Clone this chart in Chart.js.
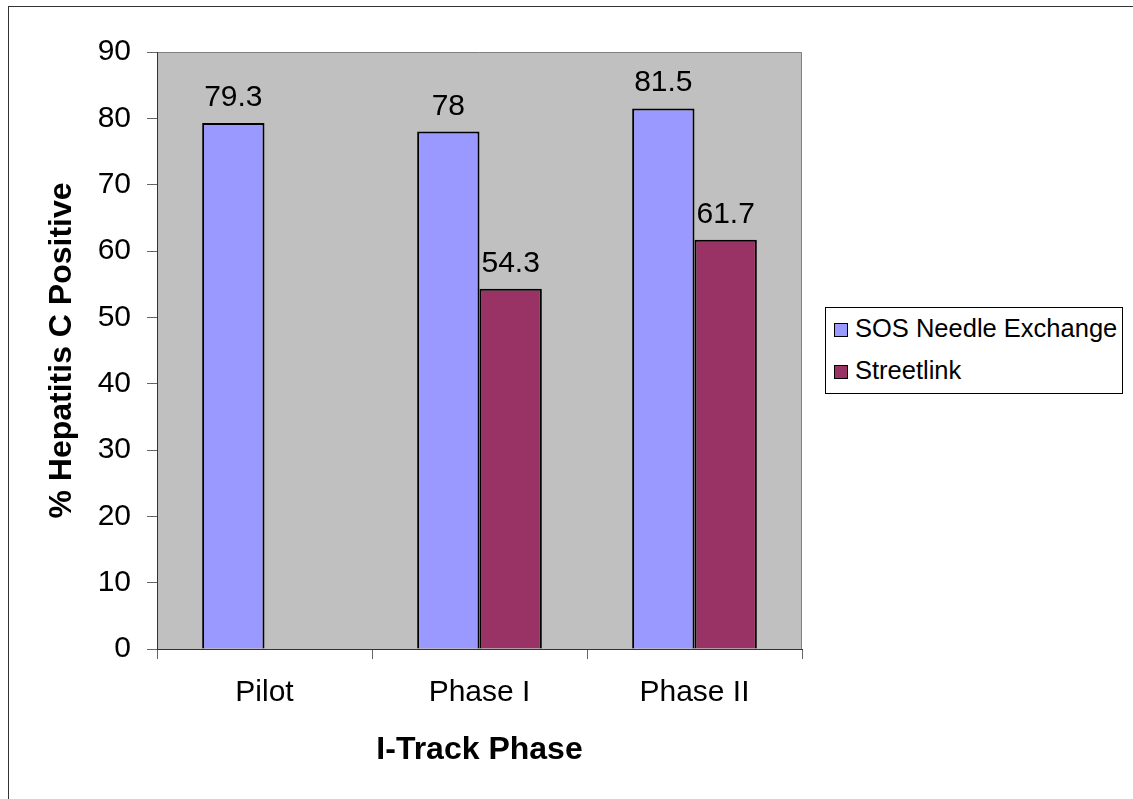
<!DOCTYPE html>
<html>
<head>
<meta charset="utf-8">
<script src="https://cdn.jsdelivr.net/npm/chart.js@4/dist/chart.umd.min.js"></script>
<style>
  html, body { margin: 0; padding: 0; background: #fff; overflow: hidden; }
  #wrap { position: relative; width: 1133px; height: 799px; }
  #frame { position: absolute; left: 8px; top: 6px; width: 2000px; height: 2000px;
    border-left: 1px solid #333; border-top: 1px solid #333; box-sizing: border-box; }
  #legend { position: absolute; left: 825px; top: 307px; width: 298px; height: 87px;
    border: 1px solid #000; box-sizing: border-box; background: #fff;
    font-family: "Liberation Sans", Arial, sans-serif; font-size: 25.5px; color: #000; }
  #legend .item { position: absolute; left: 8px; white-space: nowrap; }
  #legend .sw { display: inline-block; width: 14px; height: 14px; border: 1px solid #000;
    box-sizing: border-box; margin-right: 7px; vertical-align: 0px; }
  canvas { position: absolute; left: 0; top: 0; }
</style>
</head>
<body>
<div id="wrap">
  <div id="frame"></div>
  <canvas id="chart" width="1133" height="799"></canvas>
  <div id="legend"></div>
</div>
<script>
const categories = ['Pilot', 'Phase I', 'Phase II'];
const sosValues = [79.3, 78, 81.5];
const streetlinkValues = [null, 54.3, 61.7];
const seriesNames = ['SOS Needle Exchange', 'Streetlink'];
const seriesColors = ['#9999FF', '#993366'];

const FONT = '"Liberation Sans", Arial, sans-serif';

// grey plot area with a thin border on top and right
const plotBackground = {
  id: 'plotBackground',
  beforeDraw(chart) {
    const { ctx, chartArea: a } = chart;
    ctx.save();
    ctx.fillStyle = '#C0C0C0';
    ctx.fillRect(a.left, a.top, a.right - a.left, a.bottom - a.top);
    ctx.strokeStyle = '#808080';
    ctx.lineWidth = 1;
    ctx.beginPath();
    ctx.moveTo(a.left, a.top + 0.5);
    ctx.lineTo(a.right - 0.5, a.top + 0.5);
    ctx.lineTo(a.right - 0.5, a.bottom);
    ctx.stroke();
    ctx.restore();
  }
};

// value labels above the bars
const barLabels = {
  id: 'barLabels',
  afterDatasetsDraw(chart) {
    const { ctx } = chart;
    ctx.save();
    ctx.font = '30px ' + FONT;
    ctx.fillStyle = '#000';
    ctx.textAlign = 'center';
    ctx.textBaseline = 'alphabetic';
    chart.data.datasets.forEach((ds, i) => {
      chart.getDatasetMeta(i).data.forEach((bar, j) => {
        const v = ds.data[j];
        if (v === null || v === undefined) return;
        ctx.fillText(String(v), bar.x, bar.y - 17);
      });
    });
    ctx.restore();
  }
};

const ctx = document.getElementById('chart').getContext('2d');
const chart = new Chart(ctx, {
  type: 'bar',
  data: {
    labels: categories,
    datasets: [
      {
        label: seriesNames[0],
        data: sosValues,
        backgroundColor: seriesColors[0],
        borderColor: '#000',
        borderWidth: 2
      },
      {
        label: seriesNames[1],
        data: streetlinkValues,
        backgroundColor: seriesColors[1],
        borderColor: '#000',
        borderWidth: 2
      }
    ]
  },
  options: {
    responsive: false,
    animation: false,
    categoryPercentage: 0.58,
    barPercentage: 1,
    layout: { padding: { left: 43, top: 52, right: 331, bottom: 30 } },
    plugins: {
      legend: { display: false },
      tooltip: { enabled: false }
    },
    scales: {
      x: {
        afterFit(scale) { scale.height = 120; },
        border: { display: true, color: '#333', width: 1 },
        grid: { display: true, drawOnChartArea: false, drawTicks: true, tickLength: 10, color: '#666', offset: true },
        ticks: { color: '#000', font: { family: FONT, size: 30 }, padding: 16 },
        title: {
          display: true,
          text: 'I-Track Phase',
          color: '#000',
          font: { family: FONT, size: 32, weight: 'bold' },
          padding: 0
        }
      },
      y: {
        min: 0,
        max: 90,
        afterFit(scale) { scale.width = 157 - 43; },
        border: { display: true, color: '#333', width: 1 },
        grid: { display: true, drawOnChartArea: false, drawTicks: true, tickLength: 10, color: '#666' },
        ticks: { stepSize: 10, color: '#000', font: { family: FONT, size: 30 }, padding: 16 },
        title: {
          display: true,
          text: '% Hepatitis C Positive',
          color: '#000',
          font: { family: FONT, size: 32, weight: 'bold' },
          padding: 0
        }
      }
    }
  },
  plugins: [plotBackground, barLabels]
});

// legend box built from the datasets
const legend = document.getElementById('legend');
const rowTops = [6, 48];
chart.data.datasets.forEach((ds, i) => {
  const item = document.createElement('div');
  item.className = 'item';
  item.style.top = rowTops[i] + 'px';
  const sw = document.createElement('span');
  sw.className = 'sw';
  sw.style.background = ds.backgroundColor;
  item.appendChild(sw);
  item.appendChild(document.createTextNode(ds.label));
  legend.appendChild(item);
});
</script>
</body>
</html>
